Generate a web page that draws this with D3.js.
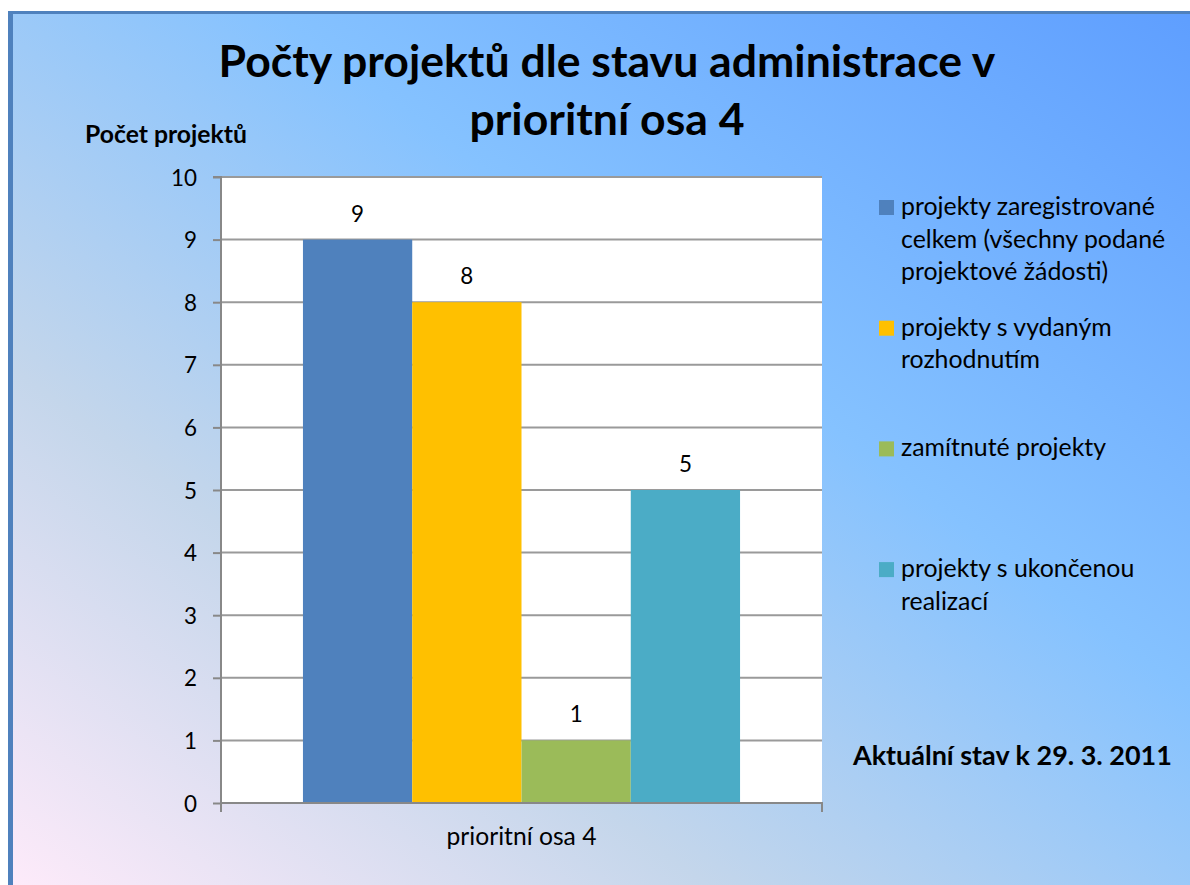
<!DOCTYPE html>
<html><head><meta charset="utf-8">
<script src="https://cdn.jsdelivr.net/npm/d3@7"></script>
<style>
html,body{margin:0;padding:0;background:#fff;}
svg{display:block;font-family:Lato,"Open Sans",sans-serif;}
</style></head>
<body>
<svg id="chart" width="1190" height="885"></svg>
<script>
// ---- data ----
const categories = ["prioritní osa 4"];
const seriesNames = [
  "projekty zaregistrované celkem (všechny podané projektové žádosti)",
  "projekty s vydaným rozhodnutím",
  "zamítnuté projekty",
  "projekty s ukončenou realizací"
];
const seriesValues = [9, 8, 1, 5];
const seriesColors = ["#4f81bd", "#ffc000", "#9bbb59", "#4bacc6"];
const yTicks = [0,1,2,3,4,5,6,7,8,9,10];
const titleLines = ["Počty projektů dle stavu administrace v", "prioritní osa 4"];
const yAxisTitle = "Počet projektů";
const noteText = "Aktuální stav k 29. 3. 2011";

// ---- layout ----
const svg = d3.select("#chart");
const W = 1190, H = 885;
const plot = {left: 221, right: 822, top: 177, bottom: 803};

// background gradient (Office "Daybreak")
const defs = svg.append("defs");
const grad = defs.append("linearGradient").attr("id","bg")
  .attr("x1",1).attr("y1",0).attr("x2",0).attr("y2",1);
[[0,"#5e9eff"],[0.39,"#85c2ff"],[0.70,"#c4d6eb"],[1,"#ffebfa"]].forEach(s=>
  grad.append("stop").attr("offset",s[0]).attr("stop-color",s[1]));

svg.append("rect").attr("x",0).attr("y",0).attr("width",W).attr("height",H).attr("fill","#fff");
svg.append("rect").attr("x",10).attr("y",12).attr("width",W).attr("height",H).attr("fill","url(#bg)");
svg.append("line").attr("x1",10.5).attr("x2",10.5).attr("y1",11).attr("y2",H).attr("stroke","#4f81bd").attr("stroke-width",5);
svg.append("line").attr("x1",8).attr("x2",W).attr("y1",12.5).attr("y2",12.5).attr("stroke","#4f81bd").attr("stroke-width",3);

// helper: fit font size so a reference text has target width
function fitSize(text, weight, targetW){
  const t = svg.append("text").attr("font-size",100).attr("font-weight",weight).text(text);
  const w = t.node().getComputedTextLength();
  t.remove();
  return 100*targetW/w;
}

// scales
const x0 = d3.scaleBand().domain(categories).range([plot.left, plot.right]).paddingInner(0).paddingOuter(0);
const x1 = d3.scaleBand().domain(d3.range(seriesValues.length)).range([0, x0.bandwidth()]).paddingInner(0).paddingOuter(0.75);
const y = d3.scaleLinear().domain([0,10]).range([plot.bottom, plot.top]);

// plot area
svg.append("rect").attr("x",plot.left).attr("y",plot.top)
  .attr("width",plot.right-plot.left).attr("height",plot.bottom-plot.top).attr("fill","#fff");

// gridlines
svg.append("g").selectAll("line").data(yTicks.filter(d=>d>0)).join("line")
  .attr("x1",plot.left).attr("x2",plot.right)
  .attr("y1",d=>y(d)).attr("y2",d=>y(d))
  .attr("stroke","#9a9a9a").attr("stroke-width",2);

// bars
const cat = categories[0];
svg.append("g").selectAll("rect").data(seriesValues).join("rect")
  .attr("x",(d,i)=>x0(cat)+x1(i))
  .attr("width",x1.bandwidth())
  .attr("y",d=>y(d))
  .attr("height",d=>y(0)-y(d))
  .attr("fill",(d,i)=>seriesColors[i]);

// axes
const tickFont = fitSize("10","normal",26);
const yAxis = svg.append("g").attr("transform",`translate(${plot.left},0)`)
  .call(d3.axisLeft(y).tickValues(yTicks).tickSize(8).tickPadding(16).tickFormat(d3.format("d")));
yAxis.select(".domain").attr("stroke","#888").attr("stroke-width",2).attr("d",`M-8,${plot.top}H0V${plot.bottom+9}`);
yAxis.selectAll(".tick line").attr("stroke","#888").attr("stroke-width",2);
yAxis.selectAll(".tick text").attr("font-size",tickFont).attr("fill","#000")
  .attr("font-family","Lato, 'Open Sans', sans-serif").attr("dy","0.36em");

const axisLabFont = fitSize(categories[0],"normal",150);
const xAxis = svg.append("g").attr("transform",`translate(0,${plot.bottom})`)
  .call(d3.axisBottom(x0).tickSize(0).tickPadding(0));
xAxis.select(".domain").attr("stroke","#888").attr("stroke-width",2).attr("d",`M${plot.left},0H${plot.right}V9`);
xAxis.selectAll(".tick line").remove();
xAxis.selectAll(".tick text").attr("font-size",axisLabFont).attr("fill","#000")
  .attr("font-family","Lato, 'Open Sans', sans-serif").attr("dy",0).attr("y",42);

// data labels
svg.append("g").selectAll("text").data(seriesValues).join("text")
  .attr("x",(d,i)=>x0(cat)+x1(i)+x1.bandwidth()/2)
  .attr("y",d=>y(d)-18)
  .attr("text-anchor","middle").attr("font-size",tickFont).attr("fill","#000")
  .text(d=>d);

// title
const titleFont = fitSize(titleLines[0],"bold",777);
svg.append("g").selectAll("text").data(titleLines).join("text")
  .attr("x",607).attr("y",(d,i)=>77+i*58)
  .attr("text-anchor","middle").attr("font-weight","bold").attr("font-size",titleFont)
  .attr("fill","#000").text(d=>d);

// y axis title
svg.append("text").attr("x",85).attr("y",143).attr("font-weight","bold")
  .attr("font-size",fitSize(yAxisTitle,"bold",162)).attr("fill","#000").text(yAxisTitle);

// legend
const legFont = fitSize("projekty zaregistrované","normal",254);
const maxW = 285;
function wrap(str){
  const words = str.split(" "); const lines=[]; let cur="";
  const t = svg.append("text").attr("font-size",legFont);
  words.forEach(w=>{
    const test = cur ? cur+" "+w : w;
    t.text(test);
    if (t.node().getComputedTextLength() > maxW && cur){ lines.push(cur); cur = w; }
    else cur = test;
  });
  if (cur) lines.push(cur);
  t.remove();
  return lines;
}
const leg = svg.append("g");
seriesNames.forEach((name,i)=>{
  const by = 215 + i*120.7;
  const g = leg.append("g");
  g.append("rect").attr("x",879).attr("y",by-15).attr("width",15).attr("height",15).attr("fill",seriesColors[i]);
  g.selectAll("text").data(wrap(name)).join("text")
    .attr("x",901).attr("y",(d,j)=>by+j*32.5)
    .attr("font-size",legFont).attr("fill","#000").text(d=>d);
});

// note
svg.append("text").attr("x",853).attr("y",765).attr("font-weight","bold")
  .attr("font-size",fitSize(noteText,"bold",319)).attr("fill","#000").text(noteText);
</script>
</body></html>
